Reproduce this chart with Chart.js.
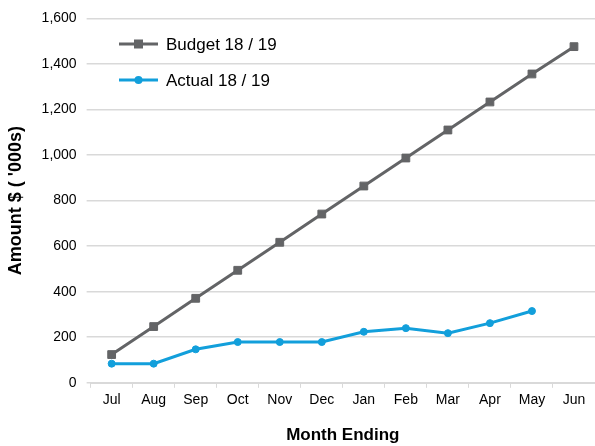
<!DOCTYPE html>
<html>
<head>
<meta charset="utf-8">
<script src="https://cdn.jsdelivr.net/npm/chart.js@4"></script>
<style>
  html, body { margin: 0; padding: 0; background: #fff; }
  #wrap { width: 595px; height: 446px; }
</style>
</head>
<body>
<div id="wrap"><canvas id="budget_chart"></canvas></div>
<script>
var months = ["Jul", "Aug", "Sep", "Oct", "Nov", "Dec", "Jan", "Feb", "Mar", "Apr", "May", "Jun"];
var budget = [124, 247, 371, 494, 617, 741, 864, 987, 1110, 1233, 1356, 1476];
var actual = [84, 84, 147, 179, 179, 179, 224, 240, 218, 262, 315];

var grey = '#636466';
var blue = '#129fdb';
var fontName = '"Liberation Sans", Arial, sans-serif';

// legend drawn inside the plot, top left
var insideLegend = {
    id: 'insideLegend',
    afterDraw: function (chart) {
        var ctx = chart.ctx;
        var items = chart.data.datasets;
        ctx.save();
        for (var i = 0; i < items.length; i++) {
            var y = 44 + i * 36;
            ctx.strokeStyle = items[i].borderColor;
            ctx.lineWidth = 3;
            ctx.beginPath();
            ctx.moveTo(119, y);
            ctx.lineTo(158, y);
            ctx.stroke();
            ctx.fillStyle = items[i].borderColor;
            if (items[i].pointStyle == 'rect') {
                ctx.fillRect(134, y - 4.5, 9, 9);
            } else {
                ctx.beginPath();
                ctx.arc(138.5, y, 4, 0, Math.PI * 2);
                ctx.fill();
            }
            ctx.fillStyle = '#000';
            ctx.font = '17px ' + fontName;
            ctx.textBaseline = 'middle';
            ctx.fillText(items[i].label, 166, y + 1);
        }
        ctx.restore();
    }
};

var chartData = {
    labels: months,
    datasets: [{
        label: 'Budget 18 / 19',
        data: budget,
        borderColor: grey,
        backgroundColor: grey,
        borderWidth: 3,
        pointStyle: 'rect',
        pointRadius: 5.5,
        pointBorderWidth: 1,
        tension: 0
    }, {
        label: 'Actual 18 / 19',
        data: actual,
        borderColor: blue,
        backgroundColor: blue,
        borderWidth: 3,
        pointStyle: 'circle',
        pointRadius: 3.5,
        pointBorderWidth: 1,
        tension: 0
    }]
};

var chartOptions = {
    responsive: true,
    maintainAspectRatio: false,
    animation: false,
    layout: {
        autoPadding: false,
        padding: { top: 17, right: 0, left: 5, bottom: 0 }
    },
    plugins: {
        legend: { display: false },
        tooltip: { enabled: false }
    },
    scales: {
        x: {
            offset: true,
            grid: {
                offset: true,
                drawOnChartArea: false,
                color: '#d9d9d9',
                tickLength: 5
            },
            border: { color: '#d9d9d9', width: 2 },
            ticks: {
                color: '#000',
                font: { family: fontName, size: 14 },
                padding: 4,
                maxRotation: 0
            },
            title: {
                display: true,
                text: 'Month Ending',
                color: '#000',
                font: { family: fontName, size: 17, weight: 'bold' },
                padding: { top: 13, bottom: 0 }
            }
        },
        y: {
            min: 0,
            max: 1600,
            grid: {
                color: '#d9d9d9',
                lineWidth: 1.5,
                tickLength: 4
            },
            border: { display: false },
            ticks: {
                stepSize: 200,
                color: '#000',
                font: { family: fontName, size: 14 },
                padding: 10,
                callback: function (v) { return v.toLocaleString('en-US'); }
            },
            title: {
                display: true,
                text: "Amount $ ( '000s)",
                color: '#000',
                font: { family: fontName, size: 18, weight: 'bold' },
                padding: { top: 0, bottom: 5 }
            }
        }
    }
};

var chart = new Chart(document.getElementById('budget_chart').getContext('2d'), {
    type: 'line',
    data: chartData,
    options: chartOptions,
    plugins: [insideLegend]
});
</script>
</body>
</html>
